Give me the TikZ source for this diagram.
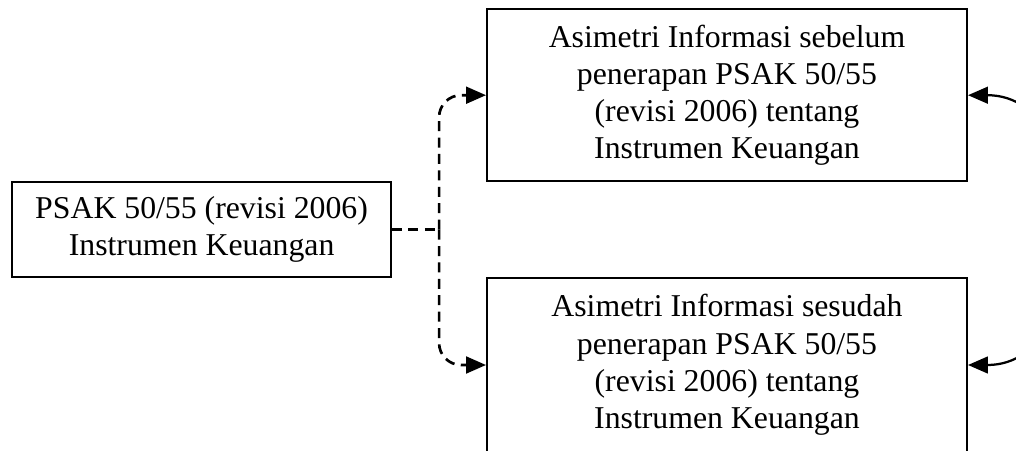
\documentclass[tikz,border=0pt]{standalone}
\usepackage{fontspec}
\setmainfont{Liberation Serif}
\usetikzlibrary{arrows.meta,positioning,calc}

\begin{document}
\begin{tikzpicture}[
  every node/.style={font=\fontsize{22.6}{26.5}\selectfont},
  varbox/.style={draw,line width=1.4pt,align=center,inner sep=4pt},
  dashlink/.style={line width=1.9pt,dash pattern=on 0.25cm off 0.16cm,
                   -{Triangle[length=0.5cm,width=0.42cm]}},
  bothlink/.style={line width=1.6pt,
                   {Triangle[length=0.5cm,width=0.42cm]}-{Triangle[length=0.5cm,width=0.42cm]}},
]
  \useasboundingbox (0,0) rectangle (25.4,11.25);
  % Box 1: PSAK
  \node[varbox,minimum width=9.475cm,minimum height=2.375cm] (psak) at (5.04,5.51)
    {PSAK 50/55 (revisi 2006)\\Instrumen Keuangan};
  % Box 2: sebelum
  \node[varbox,minimum width=12cm,minimum height=4.3cm] (sebelum) at (18.175,8.87)
    {Asimetri Informasi sebelum\\penerapan PSAK 50/55\\(revisi 2006) tentang\\Instrumen Keuangan};
  % Box 3: sesudah
  \node[varbox,minimum width=12cm,minimum height=4.35cm] (sesudah) at (18.175,2.125)
    {Asimetri Informasi sesudah\\penerapan PSAK 50/55\\(revisi 2006) tentang\\Instrumen Keuangan};
  % dashed split
  \coordinate (split) at ($(psak.east)+(1.175,0)$);
  \draw[line width=1.9pt,dash pattern=on 0.25cm off 0.16cm] (psak.east) -- (split);
  \draw[dashlink,rounded corners=0.55cm] (split) |- (sebelum.west);
  \draw[dashlink,rounded corners=0.55cm] (split) |- (sesudah.west);
  % curved link
  \draw[bothlink] (sebelum.east) .. controls +(3.3,0) and +(3.3,0) .. (sesudah.east);
\end{tikzpicture}
\end{document}
